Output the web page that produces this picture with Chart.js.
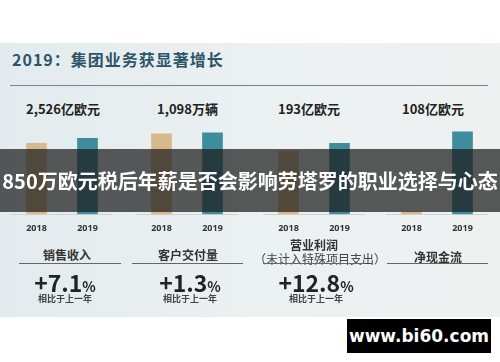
<!DOCTYPE html>
<html>
<head>
<meta charset="utf-8">
<script src="https://cdn.jsdelivr.net/npm/chart.js@4.4.1/dist/chart.umd.min.js"></script>
<style>
    body { margin: 0; width: 500px; height: 362px; background: #fff; position: relative; overflow: hidden;
        font-family: "Noto Sans CJK SC", "Noto Sans", sans-serif; }
    .abs { position: absolute; }
    .slide { left: 0; top: 43px; width: 500px; height: 274px;
        background: linear-gradient(90deg, #e3ebee 0%, #ebf0f1 50%, #eef1f0 100%); }
    .title { left: 12px; top: 47px; font-size: 16px; font-weight: bold; color: #2e5567; letter-spacing: 1px; }
    .rule { left: 10px; top: 85px; width: 478px; height: 1px; background: #6b8a95; }
    .val { top: 99px; font-size: 13px; font-weight: bold; color: #222; white-space: nowrap; }
    .box canvas { display: block; }
    .cat { font-size: 12px; font-weight: bold; color: #333; text-align: center; white-space: nowrap; }
    .uline { height: 1px; background: #666; top: 263px; }
    .pct { top: 269px; height: 26px; line-height: 26px; font-size: 23px; font-weight: bold; color: #222; text-align: center; width: 110px; }
    .pct small { font-size: 14px; }
    .cmp { top: 293px; line-height: 12px; font-size: 9px; font-weight: bold; color: #444; text-align: center; width: 110px; }
    .banner { left: 0; top: 149px; width: 500px; height: 63px; background: rgba(28,28,28,0.72);
        color: #fff; font-size: 20px; font-weight: bold; line-height: 63px; text-align: center; white-space: nowrap; overflow: hidden; }
    .wm { left: 347px; top: 319px; width: 144px; height: 34px; background: #000; color: #fff;
        font-family: "DejaVu Sans", sans-serif; font-size: 17px; font-weight: bold; line-height: 34px; text-align: center; }
</style>
</head>
<body>
<div class="abs slide"></div>
<div class="abs title">2019：集团业务获显著增长</div>
<div class="abs rule"></div>

<div class="abs val" style="left:26px">2,526亿欧元</div>
<div class="abs val" style="left:157px">1,098万辆</div>
<div class="abs val" style="left:278px">193亿欧元</div>
<div class="abs val" style="left:402px">108亿欧元</div>

<div class="abs box" style="left:11px;top:130px"><canvas id="c0" width="102" height="113"></canvas></div>
<div class="abs box" style="left:136px;top:130px"><canvas id="c1" width="102" height="113"></canvas></div>
<div class="abs box" style="left:263px;top:130px"><canvas id="c2" width="102" height="113"></canvas></div>
<div class="abs box" style="left:386px;top:130px"><canvas id="c3" width="102" height="113"></canvas></div>

<div class="abs cat" style="left:12px;top:246px;width:110px">销售收入</div>
<div class="abs uline" style="left:19px;width:102px"></div>
<div class="abs cat" style="left:133px;top:246px;width:110px">客户交付量</div>
<div class="abs uline" style="left:132px;width:111px"></div>
<div class="abs cat" style="left:259px;top:236px;width:110px">营业利润</div>
<div class="abs cat" style="left:254px;top:250px;width:120px;font-weight:normal;color:#444">（未计入特殊项目支出）</div>
<div class="abs uline" style="left:263px;width:102px"></div>
<div class="abs cat" style="left:383px;top:248px;width:110px">净现金流</div>
<div class="abs uline" style="left:387px;width:101px"></div>

<div class="abs pct" style="left:10px">+7.1<small>%</small></div>
<div class="abs pct" style="left:135px">+1.3<small>%</small></div>
<div class="abs pct" style="left:261px">+12.8<small>%</small></div>
<div class="abs cmp" style="left:10px">相比于上一年</div>
<div class="abs cmp" style="left:135px">相比于上一年</div>
<div class="abs cmp" style="left:261px">相比于上一年</div>

<div class="abs banner">850万欧元税后年薪是否会影响劳塔罗的职业选择与心态</div>
<div class="abs wm">www.bi60.com</div>

<script>
const years = ["2018", "2019"];
const revenue = [2359, 2526];      // 亿欧元
const deliveries = [1083, 1098];   // 万辆
const opProfit = [171, 193];       // 亿欧元
const netCash = [3, 108];          // 亿欧元
const seriesList = [revenue, deliveries, opProfit, netCash];
const yMax = [2800, 1136, 229, 110.5];

const barColors = ["#d8b98b", "#3e8c9c"];

function drawMiniChart(id, values, max) {
    const ctx = document.getElementById(id).getContext("2d");
    new Chart(ctx, {
        type: "bar",
        data: {
            labels: years,
            datasets: [
                {
                    data: values,
                    backgroundColor: barColors,
                    barThickness: 20,
                },
            ],
        },
        options: {
            responsive: false,
            animation: false,
            plugins: {
                legend: { display: false },
                tooltip: { enabled: false },
            },
            layout: { padding: 0 },
            scales: {
                x: {
                    grid: { display: false, drawTicks: false },
                    border: { display: true, color: "#cdd5d8", width: 1 },
                    ticks: {
                        color: "#333",
                        padding: 9,
                        font: { family: "Noto Sans", size: 9, weight: "bold" },
                    },
                },
                y: {
                    display: false,
                    min: 0,
                    max: max,
                },
            },
        },
    });
}

seriesList.forEach((s, i) => drawMiniChart("c" + i, s, yMax[i]));
</script>
</body>
</html>
